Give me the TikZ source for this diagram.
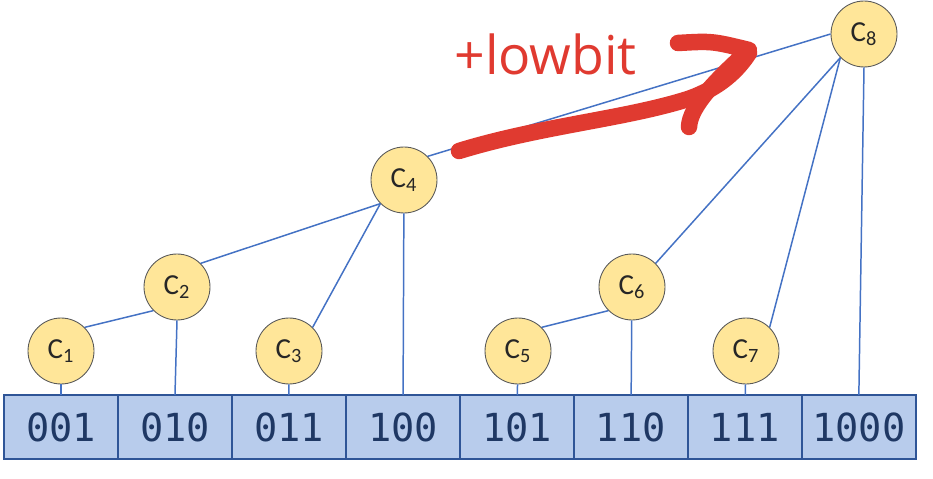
\documentclass[tikz,border=0pt]{standalone}
\usepackage{fontspec}
\setmainfont{Carlito}
\newfontfamily\cellfont{DejaVu Sans Mono}
\newfontfamily\notefont{Open Sans}
\usetikzlibrary{positioning}
\definecolor{linkblue}{HTML}{4472C4}
\definecolor{cellfill}{HTML}{B8CCEC}
\definecolor{cellborder}{HTML}{2F5597}
\definecolor{celltext}{HTML}{1F3864}
\definecolor{nodefill}{HTML}{FFE699}
\definecolor{nodeborder}{HTML}{595959}
\definecolor{notered}{HTML}{E03A30}

\begin{document}
\begin{tikzpicture}[
x=0.02cm, y=-0.02cm,
cell/.style={draw=cellborder, fill=cellfill, line width=1.4pt, minimum width=2.28cm, minimum height=1.28cm, inner sep=0pt, outer sep=0pt, text=celltext, font=\cellfont\fontsize{22}{24}\selectfont},
treenode/.style={circle, draw=nodeborder, fill=nodefill, line width=0.5pt, minimum size=1.32cm, inner sep=0pt, text=black!85, font=\fontsize{16.5}{18}\selectfont},
link/.style={draw=linkblue, line width=0.85pt},
pen/.style={draw=notered, line width=0.33cm, line cap=round, line join=round}
]
\useasboundingbox (0,0) rectangle (933,479);

% array cells
\node[cell] (b1) at (61,427) {001};
\node[cell, right=0pt of b1] (b2) {010};
\node[cell, right=0pt of b2] (b3) {011};
\node[cell, right=0pt of b3] (b4) {100};
\node[cell, right=0pt of b4] (b5) {101};
\node[cell, right=0pt of b5] (b6) {110};
\node[cell, right=0pt of b6] (b7) {111};
\node[cell, right=0pt of b7] (b8) {1000};

% tree nodes
\node[treenode] (c1) at (61,351) {C\textsubscript{1}};
\node[treenode] (c2) at (177,287) {C\textsubscript{2}};
\node[treenode] (c3) at (289,351) {C\textsubscript{3}};
\node[treenode] (c4) at (404,180) {C\textsubscript{4}};
\node[treenode] (c5) at (518,351) {C\textsubscript{5}};
\node[treenode] (c6) at (632,287) {C\textsubscript{6}};
\node[treenode] (c7) at (746,351) {C\textsubscript{7}};
\node[treenode] (c8) at (864,34) {C\textsubscript{8}};

\draw[link] (c1) -- (b1);
\draw[link] (c1.north east) -- (c2.south west);
\draw[link] (c2.south) -- (b2.north);
\draw[link] (c2.north east) -- (c4.south west);
\draw[link] (c3) -- (b3);
\draw[link] (c3.north east) -- (c4.south west);
\draw[link] (c4) -- (b4);
\draw[link] (c4.north east) -- (c8.west);
\draw[link] (c5) -- (b5);
\draw[link] (c5.north east) -- (c6.south west);
\draw[link] (c6) -- (b6);
\draw[link] (c6.north east) -- (c8.south west);
\draw[link] (c7) -- (b7);
\draw[link] (c7.north east) -- (c8.south west);
\draw[link] (c8.south) -- (b8.north);

% hand-drawn note
\node[anchor=base west, inner sep=0pt, text=notered, font=\notefont\fontsize{30.5}{32}\selectfont] (gain) at (454,75) {+lowbit};
\draw[pen] (459,151) .. controls (540,126) and (625,119) .. (688,99) .. controls (720,88) and (738,70) .. (749,53);
\draw[pen] (678,43) .. controls (712,41) .. (749,50) .. controls (716,80) and (690,106) .. (689,127);
\end{tikzpicture}
\end{document}
